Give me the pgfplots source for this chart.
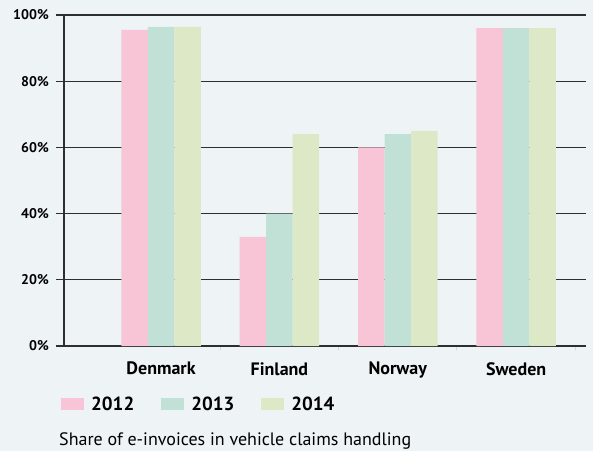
\documentclass[border=0pt]{standalone}
\usepackage{pgfplots}
\pgfplotsset{compat=1.18}
\usepackage{fontspec}
\setmainfont{PT Sans}
\definecolor{bg}{HTML}{EEF3F6}
\definecolor{cA}{HTML}{F7C5D5}
\definecolor{cB}{HTML}{C2E1D6}
\definecolor{cC}{HTML}{DCE8C6}
\definecolor{gridc}{HTML}{2E2E2E}
\definecolor{faint}{HTML}{C9DADF}
\begin{document}
\begin{tikzpicture}
\fill[bg] (0,0) rectangle (593pt,451pt);
\useasboundingbox (0,0) rectangle (593pt,451pt);
\begin{axis}[
  at={(64pt,105pt)}, anchor=south west,
  width=522pt, height=331pt, scale only axis,
  ybar=0pt, bar width=26.5pt,
  xmin=-0.82, xmax=3.59, ymin=0, ymax=100,
  enlargelimits=false,
  axis x line*=bottom, axis y line*=left,
  axis line style={gridc, line width=1.3pt, -},
  xtick={0,1,2,3},
  xticklabels={Denmark,Finland,Norway,Sweden},
  minor xtick={0.5,1.5,2.5,3.5},
  major x tick style={draw=none},
  minor x tick style={faint, line width=1pt},
  minor tick length=4pt,
  tick align=outside,
  ytick={0,20,40,60,80,100},
  yticklabels={0\%,20\%,40\%,60\%,80\%,100\%},
  major y tick style={gridc, line width=1.3pt},
  major tick length=8pt,
  ymajorgrids,
  grid style={gridc, line width=1.3pt},
  yticklabel style={font=\fontsize{14}{14}\selectfont\bfseries, inner sep=0pt, xshift=-7pt},
  xticklabel style={font=\fontsize{18}{18}\selectfont\bfseries, inner sep=0pt, yshift=-8pt},
  legend columns=3,
  legend style={at={(-3pt,-58pt)}, anchor=west, draw=none, fill=none, inner xsep=0pt, inner ysep=0pt,
    font=\fontsize{19}{19}\selectfont\bfseries,
    /tikz/every odd column/.append style={column sep=5pt},
    /tikz/every even column/.append style={column sep=25pt}},
  legend cell align=left,
]
\addplot[fill=cA, draw=none, legend image code/.code={\fill[cA] (0pt,-6pt) rectangle (23pt,6pt);}] coordinates {(0,95.5) (1,33) (2,60) (3,96)};
\addplot[fill=cB, draw=none, legend image code/.code={\fill[cB] (0pt,-6pt) rectangle (23pt,6pt);}] coordinates {(0,96.4) (1,40) (2,64) (3,96)};
\addplot[fill=cC, draw=none, legend image code/.code={\fill[cC] (0pt,-6pt) rectangle (23pt,6pt);}] coordinates {(0,96.4) (1,64) (2,65) (3,96)};
\legend{2012,2013,2014}
\end{axis}
\node[anchor=base west, inner sep=0pt, font=\fontsize{18}{18}\selectfont] at (59pt,6pt) {Share of e-invoices in vehicle claims handling};
\end{tikzpicture}
\end{document}
